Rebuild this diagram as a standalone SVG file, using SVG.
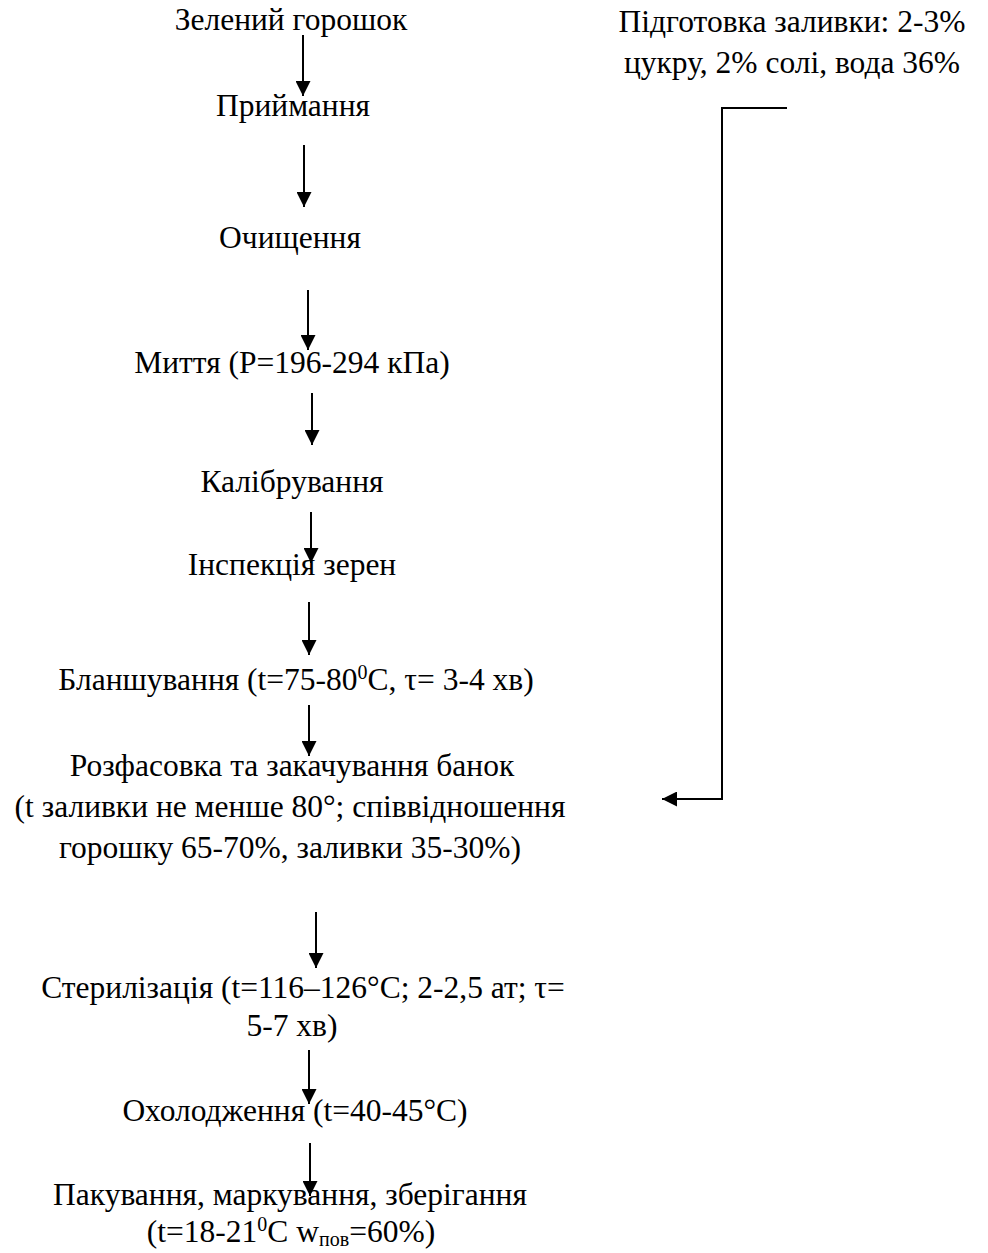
<svg xmlns="http://www.w3.org/2000/svg" width="988" height="1253" viewBox="0 0 988 1253">
  <style>
    .t { font-family: "Liberation Serif", "Times New Roman", serif; font-size: 31.5px; fill: #000; text-anchor: middle; }
    .sup { font-size: 20px; }
    .sub { font-size: 20px; }
    .c { fill: none; stroke: #000; stroke-width: 2; }
  </style>
  <defs>
    <marker id="ah" viewBox="0 0 15 15" refX="15" refY="7.5" markerWidth="15" markerHeight="15" markerUnits="userSpaceOnUse" orient="auto">
      <path d="M0,0 L15,7.5 L0,15 Z" fill="#000"/>
    </marker>
  </defs>
  <rect width="988" height="1253" fill="#fff"/>

  <g id="connectors">
    <line class="c" x1="303" y1="35" x2="303" y2="96" marker-end="url(#ah)"/>
    <line class="c" x1="304" y1="145" x2="304" y2="207" marker-end="url(#ah)"/>
    <line class="c" x1="308" y1="290" x2="308" y2="350" marker-end="url(#ah)"/>
    <line class="c" x1="312" y1="393" x2="312" y2="445" marker-end="url(#ah)"/>
    <line class="c" x1="311" y1="512" x2="311" y2="563" marker-end="url(#ah)"/>
    <line class="c" x1="309" y1="602" x2="309" y2="655" marker-end="url(#ah)"/>
    <line class="c" x1="309" y1="705" x2="309" y2="756" marker-end="url(#ah)"/>
    <line class="c" x1="316" y1="912" x2="316" y2="968" marker-end="url(#ah)"/>
    <line class="c" x1="309" y1="1050" x2="309" y2="1104" marker-end="url(#ah)"/>
    <line class="c" x1="310" y1="1143" x2="310" y2="1196" marker-end="url(#ah)"/>
    <polyline class="c" points="787,108 722,108 722,799 662,799" marker-end="url(#ah)"/>
  </g>

  <g id="n-zeleny"><text class="t" x="291" y="30">Зелений горошок</text></g>
  <g id="n-pryimannia"><text class="t" x="293" y="116">Приймання</text></g>
  <g id="n-ochyshchennia"><text class="t" x="290" y="248">Очищення</text></g>
  <g id="n-myttia"><text class="t" x="292" y="373">Миття (Р=196-294 кПа)</text></g>
  <g id="n-kalibruvannia"><text class="t" x="292" y="492">Калібрування</text></g>
  <g id="n-inspektsiia"><text class="t" x="292" y="575">Інспекція зерен</text></g>
  <g id="n-blanshuvannia"><text class="t" x="296" y="690">Бланшування (t=75-80<tspan class="sup" dy="-11">0</tspan><tspan dy="11">C, τ= 3-4 хв)</tspan></text></g>
  <g id="n-rozfasovka">
    <text class="t" x="292" y="776">Розфасовка та закачування банок</text>
    <text class="t" x="290" y="817">(t заливки не менше 80°; співвідношення</text>
    <text class="t" x="290" y="858">горошку 65-70%, заливки 35-30%)</text>
  </g>
  <g id="n-sterylizatsiia">
    <text class="t" x="303" y="998">Стерилізація (t=116–126°C; 2-2,5 ат; τ=</text>
    <text class="t" x="292" y="1036">5-7 хв)</text>
  </g>
  <g id="n-okholodzhennia"><text class="t" x="295" y="1121">Охолодження (t=40-45°C)</text></g>
  <g id="n-pakuvannia">
    <text class="t" x="290" y="1205">Пакування, маркування, зберігання</text>
    <text class="t" x="291" y="1242">(t=18-21<tspan class="sup" dy="-11">0</tspan><tspan dy="11">C w</tspan><tspan class="sub" dy="4">пов</tspan><tspan dy="-4">=60%)</tspan></text>
  </g>
  <g id="n-zalyvka">
    <text class="t" x="792" y="32">Підготовка заливки: 2-3%</text>
    <text class="t" x="792" y="73">цукру, 2% солі, вода 36%</text>
  </g>
</svg>
